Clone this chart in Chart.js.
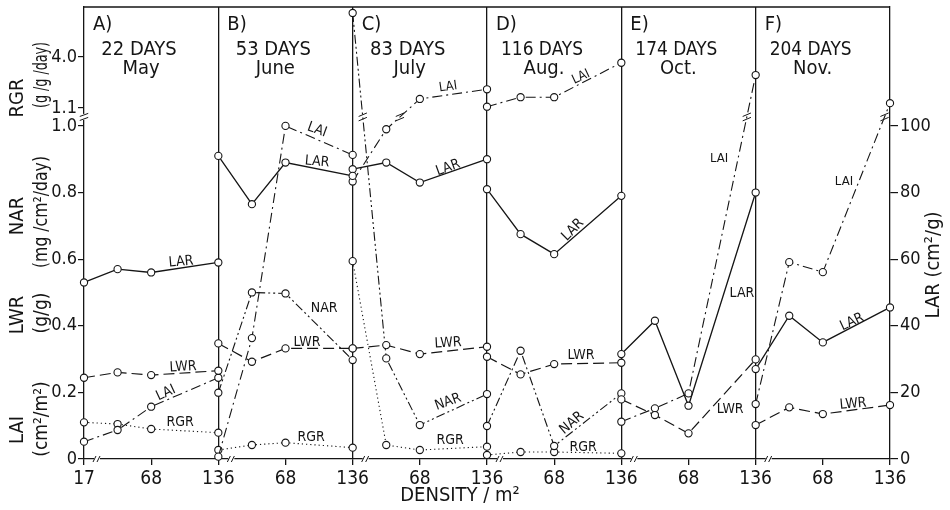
<!DOCTYPE html>
<html>
<head>
<meta charset="utf-8">
<script src="https://cdn.jsdelivr.net/npm/chart.js@4.4.0/dist/chart.umd.min.js"></script>
<style>
    html, body { margin: 0; padding: 0; background: #fff; }
    #wrap { position: relative; width: 950px; height: 510px; }
</style>
</head>
<body>
<div id="wrap"><canvas id="growthChart"></canvas></div>
<script>
// harvests (one panel each)
const panelLetters = ['A)', 'B)', 'C)', 'D)', 'E)', 'F)'];
const panelDays = ['22 DAYS', '53 DAYS', '83 DAYS', '116 DAYS', '174 DAYS', '204 DAYS'];
const panelMonths = ['May', 'June', 'July', 'Aug.', 'Oct.', 'Nov.'];

// plant densities per m2, and where each sits inside a panel (axis units)
const densities = [17, 34, 68, 136];
const densitySlot = [0, 1, 2, 4];
const panelSpan = 4;
const densityTickLabels = ['17', '68', '136', '68', '136', '68', '136', '68', '136', '68', '136', '68', '136'];

// LAR (cm2/g) - right axis
const lar = [
    [53, 57, 56, 59],
    [91, 76.5, 89, 85],
    [87, 89, 83, 90],
    [81, 67.5, 61.5, 79],
    [31.5, 41.5, 16, 80],
    [27, 43, 35, 45.5]
];
// LWR (g/g)
const lwr = [
    [0.244, 0.26, 0.252, 0.265],
    [0.347, 0.292, 0.332, 0.332],
    [0.332, 0.342, 0.315, 0.337],
    [0.307, 0.254, 0.285, 0.289],
    [0.179, 0.132, 0.077, 0.299],
    [0.102, 0.155, 0.135, 0.162]
];
// LAI (cm2/m2) - values above 1.1 read on the squeezed part of the axis
const lai = [
    [0.052, 0.087, 0.157, 0.244],
    [0.007, 0.363, 1.0, 0.913],
    [0.833, 0.99, 1.61, 2.16],
    [1.17, 1.71, 1.71, 3.67],
    [0.112, 0.152, 0.197, 2.97],
    [0.165, 0.591, 0.561, 1.37]
];
// NAR (mg/cm2/day)
const nar = [
    null,
    [0.199, 0.5, 0.497, 0.297],
    [6.5, 0.302, 0.102, 0.195],
    [0.099, 0.325, 0.039, 0.197],
    null,
    null
];
// RGR (g/g/day)
const rgr = [
    [0.11, 0.105, 0.09, 0.079],
    [0.027, 0.042, 0.049, 0.034],
    [0.594, 0.042, 0.027, 0.037],
    [0.012, 0.021, 0.021, 0.017],
    null,
    null
];

const leftTicks = [0, 0.2, 0.4, 0.6, 0.8, 1.0, 1.1, 4.0];
const rightTicks = [0, 20, 40, 60, 80, 100];

// broken left axis: linear up to 1.0, gap, then 1.1..4.0 squeezed
const BREAK_LOW = 1.0, BREAK_HIGH = 1.1, U_HIGH = 1.054, SQUEEZE = 0.0528;
const Y_TOP = 1.357;

function toAxis(v) {
    if (v <= BREAK_LOW) return v;
    if (v <= BREAK_HIGH) return BREAK_LOW + (v - BREAK_LOW) / (BREAK_HIGH - BREAK_LOW) * (U_HIGH - BREAK_LOW);
    return U_HIGH + (v - BREAK_HIGH) * SQUEEZE;
}
function fromAxis(u) {
    if (u <= BREAK_LOW) return u;
    if (u <= U_HIGH) return BREAK_LOW + (u - BREAK_LOW) / (U_HIGH - BREAK_LOW) * (BREAK_HIGH - BREAK_LOW);
    return BREAK_HIGH + (u - U_HIGH) / SQUEEZE;
}

class BrokenScale extends Chart.LinearScale {
    static id = 'broken';
    static defaults = Chart.LinearScale.defaults;
    getPixelForValue(value) { return super.getPixelForValue(toAxis(value)); }
    getValueForPixel(pixel) { return fromAxis(super.getValueForPixel(pixel)); }
}
Chart.register(BrokenScale);

const FONT = "'DejaVu Sans Condensed', 'DejaVu Sans', sans-serif";
const INK = '#151515';
Chart.defaults.font.family = FONT;
Chart.defaults.color = INK;

const seriesList = [
    { name: 'LAR', values: lar, axis: 'y1', dash: [], width: 1.3 },
    { name: 'LWR', values: lwr, axis: 'y', dash: [11, 5], width: 1.2 },
    { name: 'LAI', values: lai, axis: 'y', dash: [10, 4, 2, 4], width: 1.1 },
    { name: 'NAR', values: nar, axis: 'y', dash: [9, 3, 2, 3, 2, 3], width: 1.1 },
    { name: 'RGR', values: rgr, axis: 'y', dash: [1.2, 3], width: 1.1 }
];

const datasets = [];
seriesList.forEach(s => {
    s.values.forEach((vals, p) => {
        if (!vals) return;
        datasets.push({
            label: s.name + ' ' + panelLetters[p],
            data: vals.map((v, i) => ({ x: p * panelSpan + densitySlot[i], y: v })),
            yAxisID: s.axis,
            borderColor: INK,
            borderWidth: s.width,
            borderDash: s.dash,
            pointRadius: 3.6,
            pointBorderWidth: 1.1,
            pointBackgroundColor: '#fff',
            pointBorderColor: INK,
            tension: 0,
            fill: false,
            clip: false
        });
    });
});

// inline series tags: [text, x (axis units), y (left axis value), angle deg, size]
const seriesTags = [
    ['LAR', 2.89, 0.592, -5, 14], ['LWR', 2.95, 0.276, -3, 14], ['LAI', 2.44, 0.198, -25, 14], ['RGR', 2.86, 0.111, 0, 14],
    ['LAI', 6.94, 0.988, 20, 14], ['LAR', 6.94, 0.892, 5, 14], ['NAR', 7.15, 0.453, 0, 14], ['LWR', 6.64, 0.351, 0, 14], ['RGR', 6.76, 0.066, 0, 14],
    ['LAI', 10.84, 2.29, -8, 13], ['LAR', 10.84, 0.874, -20, 14], ['LWR', 10.84, 0.348, -3, 14], ['NAR', 10.84, 0.171, -20, 14], ['RGR', 10.9, 0.057, 0, 14],
    ['LAI', 14.8, 2.86, -25, 13], ['LAR', 14.56, 0.688, -45, 14], ['LWR', 14.8, 0.312, 0, 14], ['NAR', 14.53, 0.108, -40, 14], ['RGR', 14.86, 0.036, 0, 14],
    ['LAI', 18.91, 0.901, 0, 13], ['LAR', 19.59, 0.498, 0, 14], ['LWR', 19.24, 0.150, 0, 14],
    ['LAI', 22.63, 0.832, 0, 13], ['LAR', 22.87, 0.411, -25, 14], ['LWR', 22.9, 0.165, -5, 14]
];

function slashPair(ctx, x, y, angle, len, gap) {
    const dx = Math.cos(angle) * len / 2, dy = Math.sin(angle) * len / 2;
    ctx.beginPath();
    ctx.moveTo(x - dx, y - dy - gap); ctx.lineTo(x + dx, y + dy - gap);
    ctx.moveTo(x - dx, y - dy + gap); ctx.lineTo(x + dx, y + dy + gap);
    ctx.stroke();
}

const figureDecor = {
    id: 'figureDecor',
    afterDraw(chart) {
        const { ctx, chartArea: area, scales } = chart;
        const xs = scales.x, ys = scales.y;
        ctx.save();
        ctx.strokeStyle = INK;
        ctx.fillStyle = INK;
        ctx.lineWidth = 1.3;
        ctx.setLineDash([]);

        // top frame line
        ctx.beginPath();
        ctx.moveTo(area.left, area.top);
        ctx.lineTo(area.right, area.top);
        ctx.stroke();

        // break on the left axis
        const yb = ys.getPixelForValue(1.05);
        ctx.fillStyle = '#fff';
        ctx.fillRect(area.left - 2, yb - 3, 4, 6);
        ctx.fillStyle = INK;
        ctx.lineWidth = 1;
        slashPair(ctx, area.left, yb, -0.35, 9, 2);

        // breaks on the density axis, just right of each panel start
        panelLetters.forEach((_, p) => {
            const bx = xs.getPixelForValue(p * panelSpan) + 13;
            ctx.fillStyle = '#fff';
            ctx.fillRect(bx - 3, area.bottom - 2, 6, 4);
            ctx.beginPath();
            ctx.moveTo(bx - 4, area.bottom + 3); ctx.lineTo(bx - 1, area.bottom - 3);
            ctx.moveTo(bx, area.bottom + 3); ctx.lineTo(bx + 3, area.bottom - 3);
            ctx.stroke();
        });

        // breaks where a line jumps over the gap
        chart.data.datasets.forEach((ds, di) => {
            if (ds.yAxisID !== 'y') return;
            const meta = chart.getDatasetMeta(di);
            for (let i = 0; i < ds.data.length - 1; i++) {
                const a = ds.data[i].y, b = ds.data[i + 1].y;
                const crosses = (a <= BREAK_LOW && b >= BREAK_HIGH) || (b <= BREAK_LOW && a >= BREAK_HIGH);
                if (!crosses) continue;
                const pa = meta.data[i], pb = meta.data[i + 1];
                const t = (yb - pa.y) / (pb.y - pa.y);
                const bx = pa.x + t * (pb.x - pa.x);
                slashPair(ctx, bx, yb, -0.4, 9, 2.2);
            }
        });

        // panel headers
        ctx.fillStyle = INK;
        ctx.textBaseline = 'middle';
        panelLetters.forEach((letter, p) => {
            const left = xs.getPixelForValue(p * panelSpan);
            ctx.font = '20px ' + FONT;
            ctx.textAlign = 'left';
            ctx.fillText(letter, left + 9, 25);
            ctx.textAlign = 'center';
            ctx.fillText(panelDays[p], left + 55, 49.5, 82);
            ctx.fillText(panelMonths[p], left + 57, 69);
        });

        // inline series names
        seriesTags.forEach(([text, x, y, ang, size]) => {
            const px = xs.getPixelForValue(x), py = ys.getPixelForValue(y);
            ctx.save();
            ctx.translate(px, py);
            ctx.rotate(ang * Math.PI / 180);
            ctx.font = size + 'px ' + FONT;
            ctx.textAlign = 'center';
            ctx.fillText(text, 0, 0);
            ctx.restore();
        });

        // left axis titles (stacked quantities sharing the same ticks)
        const leftTitles = [
            ['RGR', 17.5, 98, 20, 48], ['(g /g /day)', 42, 75, 19, 66],
            ['NAR', 17.5, 216, 20, 48], ['(mg /cm\u00b2/day)', 42, 212, 19, 112],
            ['LWR', 17.5, 315, 20, 48], ['(g/g)', 42, 313, 19, 48],
            ['LAI', 17.5, 430, 20, 36], ['(cm\u00b2/m\u00b2)', 42, 419, 19, 82]
        ];
        leftTitles.forEach(([text, x, y, size, maxW]) => {
            ctx.save();
            ctx.translate(x, y);
            ctx.rotate(-Math.PI / 2);
            ctx.font = size + 'px ' + FONT;
            ctx.textAlign = 'center';
            ctx.fillText(text, 0, 0, maxW);
            ctx.restore();
        });

        // right axis title
        ctx.save();
        ctx.translate(934, 265);
        ctx.rotate(-Math.PI / 2);
        ctx.font = '20px ' + FONT;
        ctx.textAlign = 'center';
        ctx.fillText('LAR (cm\u00b2/g)', 0, 0, 118);
        ctx.restore();

        // density axis title
        ctx.font = '20px ' + FONT;
        ctx.textAlign = 'center';
        ctx.fillText('DENSITY / m\u00b2', 460, 496);

        ctx.restore();
    }
};

new Chart(document.getElementById('growthChart'), {
    type: 'line',
    data: { datasets },
    options: {
        responsive: true,
        maintainAspectRatio: false,
        animation: false,
        layout: { padding: { top: 7, left: 0, right: 0, bottom: 0 } },
        plugins: { legend: { display: false }, tooltip: { enabled: false } },
        scales: {
            x: {
                type: 'linear',
                min: 0,
                max: panelSpan * panelLetters.length,
                afterBuildTicks: scale => {
                    scale.ticks = densityTickLabels.map((_, i) => ({ value: i * 2 }));
                },
                afterFit: scale => {
                    scale.height = 51;
                    scale.paddingLeft = 0;
                    scale.paddingRight = 0;
                },
                ticks: {
                    autoSkip: false,
                    maxRotation: 0,
                    padding: 3,
                    color: INK,
                    font: { size: 19 },
                    callback: (value, index) => densityTickLabels[index]
                },
                grid: {
                    lineWidth: 1.3,
                    tickLength: 6,
                    tickColor: INK,
                    color: ctx => {
                        const v = ctx.tick ? ctx.tick.value : 0;
                        return (v % panelSpan === 0 && v > 0 && v < panelSpan * panelLetters.length) ? INK : 'rgba(0,0,0,0)';
                    }
                },
                border: { display: true, color: INK, width: 1.3 }
            },
            y: {
                type: 'broken',
                position: 'left',
                min: 0,
                max: Y_TOP,
                afterBuildTicks: scale => {
                    scale.ticks = leftTicks.map(v => ({ value: v }));
                },
                afterFit: scale => {
                    scale.width = 84;
                    scale.paddingTop = 0;
                    scale.paddingBottom = 0;
                },
                ticks: {
                    padding: 1,
                    color: INK,
                    font: { size: 18 },
                    callback: value => value === 0 ? '0' : value.toFixed(1)
                },
                grid: { drawOnChartArea: false, tickLength: 6, tickColor: INK, lineWidth: 1.2 },
                border: { display: true, color: INK, width: 1.3 }
            },
            y1: {
                type: 'linear',
                position: 'right',
                min: 0,
                max: Y_TOP * 100,
                afterBuildTicks: scale => {
                    scale.ticks = rightTicks.map(v => ({ value: v }));
                },
                afterFit: scale => {
                    scale.width = 60;
                    scale.paddingTop = 0;
                    scale.paddingBottom = 0;
                },
                ticks: {
                    padding: 2,
                    color: INK,
                    font: { size: 18 },
                    callback: value => String(value)
                },
                grid: { drawOnChartArea: false, tickLength: 8, tickColor: INK, lineWidth: 1.2 },
                border: { display: true, color: INK, width: 1.3 }
            }
        }
    },
    plugins: [figureDecor]
});
</script>
</body>
</html>
